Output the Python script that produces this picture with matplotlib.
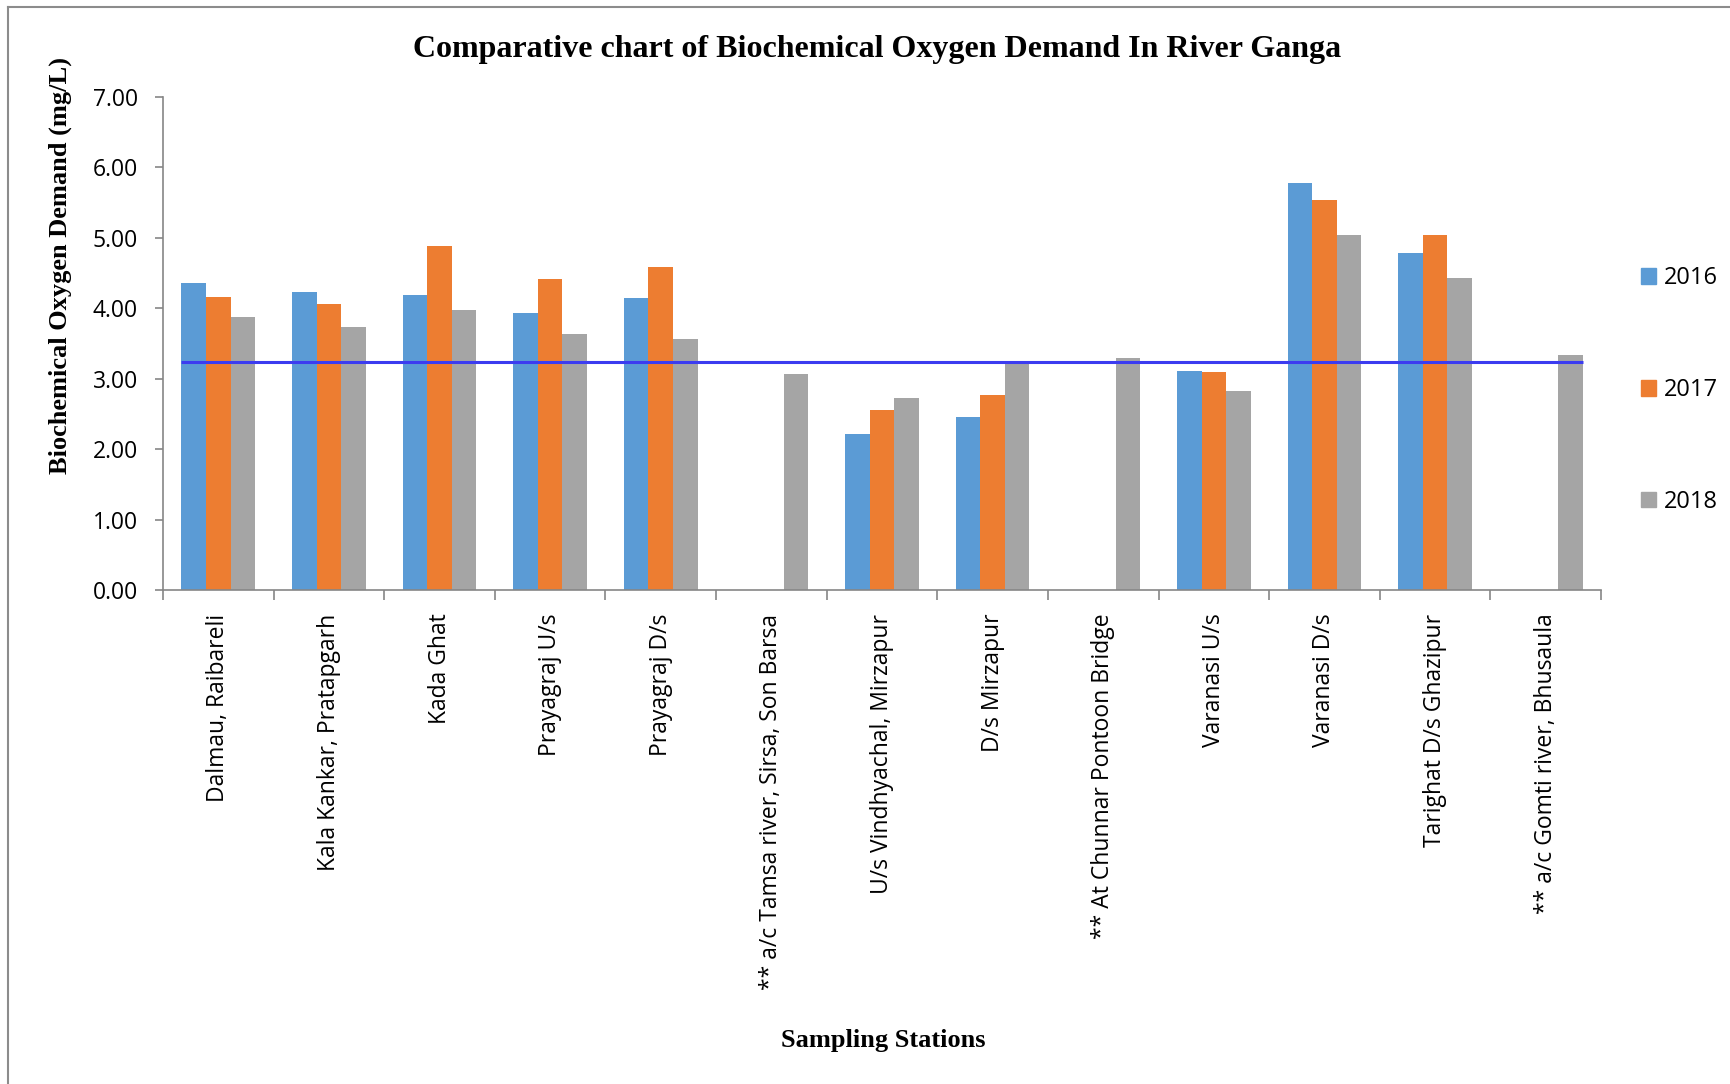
import matplotlib
matplotlib.use("Agg")
import matplotlib.pyplot as plt
import numpy as np
from matplotlib.lines import Line2D

stations = [
    "Dalmau, Raibareli",
    "Kala Kankar, Pratapgarh",
    "Kada Ghat",
    "Prayagraj U/s",
    "Prayagraj D/s",
    "** a/c Tamsa river, Sirsa, Son Barsa",
    "U/s Vindhyachal, Mirzapur",
    "D/s Mirzapur",
    "** At Chunnar Pontoon Bridge",
    "Varanasi U/s",
    "Varanasi D/s",
    "Tarighat D/s Ghazipur",
    "** a/c Gomti river, Bhusaula",
]
bod_2016 = [4.36, 4.23, 4.19, 3.93, 4.14, np.nan, 2.22, 2.46, np.nan, 3.11, 5.78, 4.78, np.nan]
bod_2017 = [4.16, 4.06, 4.88, 4.42, 4.59, np.nan, 2.55, 2.77, np.nan, 3.10, 5.54, 5.04, np.nan]
bod_2018 = [3.87, 3.74, 3.97, 3.63, 3.56, 3.07, 2.73, 3.23, 3.29, 2.83, 5.04, 4.43, 3.34]
average_bod = 3.24
years = ["2016", "2017", "2018"]
colors = ["#5B9BD5", "#ED7D31", "#A5A5A5"]
yticks = [0, 1, 2, 3, 4, 5, 6, 7]

W, H = 1730, 1084
fig = plt.figure(figsize=(W / 100, H / 100), dpi=100)
ax = fig.add_axes([163 / W, 1 - 590 / H, (1601 - 163) / W, (590 - 97) / H])

x = np.arange(len(stations))
bw = 1 / 4.5
series = [bod_2016, bod_2017, bod_2018]
for i, (vals, c) in enumerate(zip(series, colors)):
    ax.bar(x + (i - 1) * bw, vals, width=bw, color=c, edgecolor="none", zorder=2)

ax.hlines(average_bod, x[0] - 1.5 * bw, x[-1] + 1.5 * bw, color="#3C3CF0", lw=2.2, zorder=3)

ax.set_xlim(-0.5, len(stations) - 0.5)
ax.set_ylim(0, 7)
ax.set_yticks(yticks)
ax.set_yticklabels([f"{v:.2f}" for v in yticks], fontfamily="Open Sans", fontsize=16.5)
ax.set_xticks(x)
ax.set_xticklabels(stations, rotation=90, fontfamily="Open Sans", fontsize=16.5, va="top")
ax.set_xticks(np.arange(-0.5, len(stations)), minor=True)
ax.tick_params(axis="x", which="major", length=0, pad=17)
ax.tick_params(axis="x", which="minor", length=7, color="#868686", width=1.2)
ax.tick_params(axis="y", which="major", length=6, color="#868686", width=1.2, pad=12)
for s in ["top", "right"]:
    ax.spines[s].set_visible(False)
for s in ["left", "bottom"]:
    ax.spines[s].set_color("#868686")
    ax.spines[s].set_linewidth(1.2)

fig.text(877 / W, 1 - 49 / H, "Comparative chart of Biochemical Oxygen Demand In River Ganga",
         ha="center", va="center", fontfamily="Liberation Serif", fontweight="bold", fontsize=23)
fig.text(60 / W, 1 - 265 / H, "Biochemical Oxygen Demand (mg/L)", rotation=90,
         ha="center", va="center", fontfamily="Liberation Serif", fontweight="bold", fontsize=19)
fig.text(883 / W, 1 - 1041 / H, "Sampling Stations",
         ha="center", va="center", fontfamily="Liberation Serif", fontweight="bold", fontsize=19)

handles = [plt.Rectangle((0, 0), 1, 1, color=c) for c in colors]
leg = fig.legend(handles, years, loc="center left", bbox_to_anchor=(1620 / W, 1 - 390 / H),
                 frameon=False, prop={"family": "Open Sans", "size": 17},
                 handlelength=0.64, handleheight=0.64, handletextpad=0.3, labelspacing=3.72)

# outer frame (top and left edges)
fig.add_artist(Line2D([8 / W, 1], [1 - 7 / H, 1 - 7 / H], transform=fig.transFigure, color="#8C8C8C", lw=1.5))
fig.add_artist(Line2D([8 / W, 8 / W], [0, 1 - 7 / H], transform=fig.transFigure, color="#8C8C8C", lw=1.5))

fig.savefig("out.png", dpi=100, facecolor="white")
